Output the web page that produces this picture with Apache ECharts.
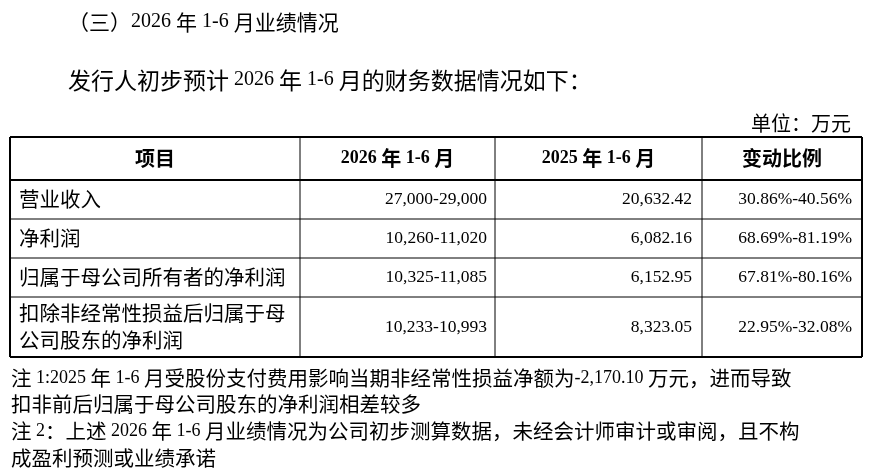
<!DOCTYPE html>
<html><head><meta charset="utf-8">
<script src="https://cdn.jsdelivr.net/npm/echarts@6/dist/echarts.min.js"></script>
<style>html,body{margin:0;background:#fff}#c{width:873px;height:468px}</style>
</head><body><div id="c"></div>
<script>
const headers = ["项目", "2026 年 1-6 月", "2025 年 1-6 月", "变动比例"];
const items = ["营业收入", "净利润", "归属于母公司所有者的净利润", "扣除非经常性损益后归属于母\n公司股东的净利润"];
const forecast2026 = ["27,000-29,000", "10,260-11,020", "10,325-11,085", "10,233-10,993"];
const actual2025 = ["20,632.42", "6,082.16", "6,152.95", "8,323.05"];
const changeRatio = ["30.86%-40.56%", "68.69%-81.19%", "67.81%-80.16%", "22.95%-32.08%"];
const title = "（三）2026 年 1-6 月业绩情况";
const intro = "发行人初步预计 2026 年 1-6 月的财务数据情况如下：";
const unit = "单位：万元";
const notes = ["注 1:2025 年 1-6 月受股份支付费用影响当期非经常性损益净额为-2,170.10 万元，进而导致",
  "扣非前后归属于母公司股东的净利润相差较多",
  "注 2：上述 2026 年 1-6 月业绩情况为公司初步测算数据，未经会计师审计或审阅，且不构",
  "成盈利预测或业绩承诺"];

const LF = '"Liberation Serif",serif';
const CF = '"Noto Sans CJK SC",sans-serif';
const colX = [10, 300, 495, 702, 862];
const rowY = [137, 180, 219, 258, 297, 357];
const g = [];
// split text into CJK / Latin runs for rich styling
function rich(s){
  return s.split('\n').map(line=>{
    const runs = line.match(/[\u3000-\u9fff\uff00-\uffef]+|[^\u3000-\u9fff\uff00-\uffef]+/g) || [];
    return runs.map(r=>(/[\u3000-\u9fff\uff00-\uffef]/.test(r)?'{c|':'{l|')+r+'}').join('');
  }).join('\n');
}
function txt(x, y, s, cs, ls, o){
  o = o||{};
  const w = o.bold?'bold ':'';
  g.push({type:'text', x, y, style:{text:rich(s), fill:'#000', align:o.align||'left', verticalAlign:'middle', lineHeight:o.lh,
    rich:{c:{font:w+cs+'px '+CF, lineHeight:o.lh}, l:{font:w+ls+'px '+LF, lineHeight:o.lh}}}});
}
const line = (x1,y1,x2,y2,w) => g.push({type:'line', shape:{x1,y1,x2,y2}, style:{stroke:'#000', lineWidth:w}});

txt(68, 22, title, 21, 20);
txt(68, 80, intro, 23, 20);
txt(851, 123, unit, 20, 18, {align:'right'});

rowY.forEach((y,i)=>line(colX[0], y, colX[4], y, (i===0||i===1||i===rowY.length-1)?2:1));
colX.forEach((x,i)=>line(x, rowY[0], x, rowY[rowY.length-1], (i===0||i===colX.length-1)?2:1));

headers.forEach((h,i)=>txt((colX[i]+colX[i+1])/2, (rowY[0]+rowY[1])/2, h, 20, 18, {bold:true, align:'center'}));
items.forEach((it,r)=>{
  const cy = (rowY[r+1]+rowY[r+2])/2;
  txt(19, cy, it, 20.5, 18, {lh:27});
  txt(colX[2]-8, cy, forecast2026[r], 20, 17.5, {align:'right'});
  txt(colX[3]-10, cy, actual2025[r], 20, 17.5, {align:'right'});
  txt(colX[4]-10, cy, changeRatio[r], 20, 17.5, {align:'right'});
});
notes.forEach((n,i)=>txt(11, 378+i*26.7, n, 20.5, 18));

const chart = echarts.init(document.getElementById('c'));
chart.setOption({animation:false, graphic:g});
</script></body></html>
